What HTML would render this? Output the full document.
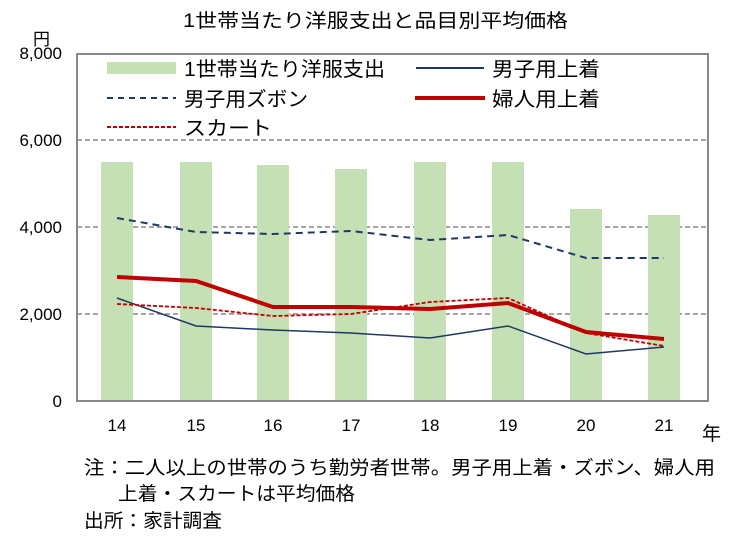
<!DOCTYPE html>
<html><head><meta charset="utf-8"><style>
body{margin:0;background:#fff;}
svg text{font-family:"Liberation Sans","Noto Sans CJK JP",sans-serif;fill:#000;}
</style></head><body>
<svg width="750" height="538" xmlns="http://www.w3.org/2000/svg">
<text x="183" y="27" font-size="19" textLength="385" lengthAdjust="spacingAndGlyphs">1世帯当たり洋服支出と品目別平均価格</text>
<text x="33" y="45" font-size="17">円</text>
<g font-size="17" text-anchor="end">
<text x="62" y="59">8,000</text><text x="62" y="146">6,000</text><text x="62" y="233">4,000</text><text x="62" y="320">2,000</text><text x="62" y="407">0</text>
</g>
<g stroke="#888" stroke-width="1.5" stroke-dasharray="5,3">
<line x1="77" y1="140" x2="708" y2="140"/><line x1="77" y1="227" x2="708" y2="227"/><line x1="77" y1="314" x2="708" y2="314"/>
</g>
<g fill="#c5e0b4">
<rect x="101" y="162" width="32" height="239"/><rect x="180" y="162" width="32" height="239"/>
<rect x="257" y="165" width="32" height="236"/><rect x="335" y="169" width="32" height="232"/>
<rect x="414" y="162" width="32" height="239"/><rect x="492" y="162" width="32" height="239"/>
<rect x="570" y="209" width="32" height="192"/><rect x="648" y="215" width="32" height="186"/>
</g>
<polyline fill="none" stroke="#1f3864" stroke-width="2" stroke-dasharray="7,5" points="117,218 196,232 273,234 351,231 430,240 508,235 586,258 664,258"/>
<polyline fill="none" stroke="#1f3864" stroke-width="1.5" points="117,298 196,326 273,330 351,333 430,338 508,326 586,354 664,347"/>
<polyline fill="none" stroke="#c00000" stroke-width="1.8" stroke-dasharray="4,2" points="117,304 196,308 273,316 351,314 430,302 508,298 586,333 664,346"/>
<polyline fill="none" stroke="#c00000" stroke-width="4" points="117,277 196,281 273,307 351,307 430,309 508,303 586,332 664,339"/>
<rect x="77" y="54" width="631" height="347" fill="none" stroke="#888" stroke-width="2"/>
<rect x="107" y="62" width="69" height="12" fill="#c5e0b4"/>
<text x="184" y="76" font-size="20" textLength="201" lengthAdjust="spacingAndGlyphs">1世帯当たり洋服支出</text>
<line x1="416" y1="68" x2="484" y2="68" stroke="#1f3864" stroke-width="2"/>
<text x="492" y="76" font-size="20" textLength="108" lengthAdjust="spacingAndGlyphs">男子用上着</text>
<line x1="107" y1="98" x2="176" y2="98" stroke="#1f3864" stroke-width="2" stroke-dasharray="6,5"/>
<text x="184" y="106" font-size="20" textLength="124" lengthAdjust="spacingAndGlyphs">男子用ズボン</text>
<line x1="415" y1="98" x2="485" y2="98" stroke="#c00000" stroke-width="4"/>
<text x="492" y="106" font-size="20" textLength="108" lengthAdjust="spacingAndGlyphs">婦人用上着</text>
<line x1="107" y1="127" x2="176" y2="127" stroke="#c00000" stroke-width="2" stroke-dasharray="4,2"/>
<text x="184" y="135" font-size="20" textLength="88" lengthAdjust="spacingAndGlyphs">スカート</text>
<g font-size="17" text-anchor="middle">
<text x="117" y="431">14</text><text x="196" y="431">15</text><text x="273" y="431">16</text><text x="351" y="431">17</text>
<text x="430" y="431">18</text><text x="508" y="431">19</text><text x="586" y="431">20</text><text x="664" y="431">21</text>
</g>
<text x="702" y="440" font-size="19">年</text>
<text x="84" y="474" font-size="19" textLength="631" lengthAdjust="spacingAndGlyphs">注：二人以上の世帯のうち勤労者世帯。男子用上着・ズボン、婦人用</text>
<text x="118" y="500" font-size="19" textLength="237" lengthAdjust="spacingAndGlyphs">上着・スカートは平均価格</text>
<text x="84" y="527" font-size="19" textLength="138" lengthAdjust="spacingAndGlyphs">出所：家計調査</text>
</svg>
</body></html>
